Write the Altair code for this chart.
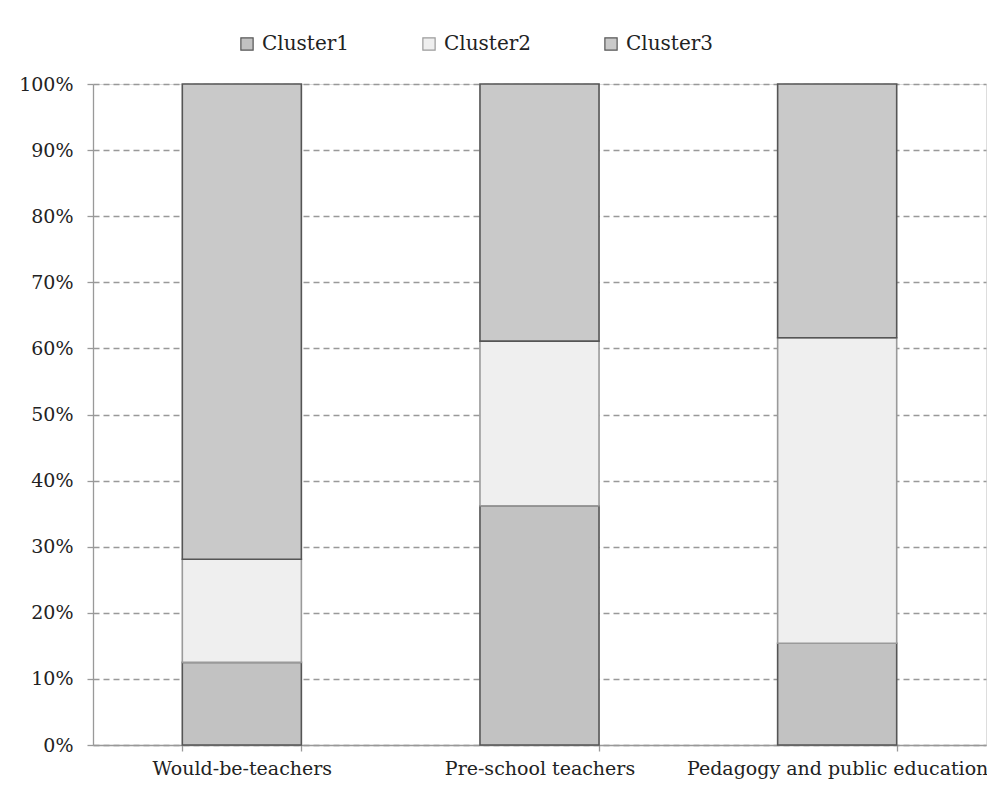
import altair as alt
import pandas as pd

groups = ["Would-be-teachers", "Pre-school teachers", "Pedagogy and public education"]
clusters = ["Cluster1", "Cluster2", "Cluster3"]
cluster1 = [12.5, 36.2, 15.4]
cluster2 = [15.6, 24.9, 46.2]
cluster3 = [71.9, 38.9, 38.4]

rows = []
for i, g in enumerate(groups):
    for j, (c, vals) in enumerate(zip(clusters, [cluster1, cluster2, cluster3])):
        rows.append({"group": g, "cluster": c, "value": vals[i] / 100.0, "ord": j})
df = pd.DataFrame(rows)

FONT = "DejaVu Serif"

bars = alt.Chart(df).mark_bar(strokeWidth=1.6).encode(
    x=alt.X("group:N", sort=groups, title=None,
            scale=alt.Scale(paddingInner=0.6, paddingOuter=0.3),
            axis=alt.Axis(labelAngle=0, tickBand="extent", tickSize=6,
                          labelPadding=8, labelFontSize=19, labelFont=FONT, labelLimit=500,
                          labelColor="#222", domainColor="#999", tickColor="#999",
                          domainWidth=1.3, tickWidth=1.3, grid=False)),
    y=alt.Y("value:Q", stack="zero", title=None,
            scale=alt.Scale(domain=[0, 1], nice=False),
            axis=alt.Axis(format=".0%", values=[i / 10 for i in range(11)],
                          tickSize=6, labelPadding=14, labelFontSize=19, labelFont=FONT,
                          labelColor="#222", domainColor="#999", tickColor="#999",
                          domainWidth=1.3, tickWidth=1.3,
                          grid=True, gridColor="#999", gridDash=[6, 4], gridWidth=1.3)),
    color=alt.Color("cluster:N", sort=clusters,
                    scale=alt.Scale(domain=clusters, range=["#c2c2c2", "#efefef", "#c9c9c9"]),
                    legend=alt.Legend(title=None, orient="none", direction="horizontal",
                                      legendX=144, legendY=-50, padding=0,
                                      symbolType="square", symbolSize=150,
                                      symbolStrokeWidth=1.2,
                                      labelFont=FONT, labelFontSize=20, labelColor="#222",
                                      columnPadding=69, symbolOffset=0, labelOffset=5)),
    stroke=alt.Stroke("cluster:N", sort=clusters,
                      scale=alt.Scale(domain=clusters, range=["#555555", "#9a9a9a", "#555555"]),
                      legend=None),
    order=alt.Order("ord:Q", sort="ascending"),
)

chart = bars.properties(
    width=893, height=661,
    autosize=alt.AutoSizeParams(type="none"),
    padding={"left": 85, "top": 76, "right": 1, "bottom": 38},
).configure_view(stroke=None).configure(background="white")

chart.save("out.html", embed_options={"renderer": "svg", "actions": False})
